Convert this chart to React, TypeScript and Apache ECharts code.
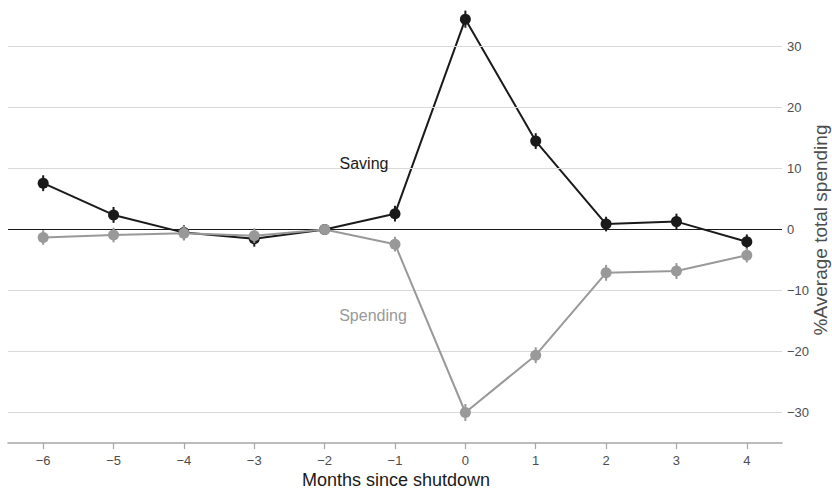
import React, { useEffect, useRef } from "react";
import * as echarts from "echarts";

// Months relative to the shutdown month
const months = ["-6", "-5", "-4", "-3", "-2", "-1", "0", "1", "2", "3", "4"];

// Change relative to average total spending (%), with ±error
const saving = [7.6, 2.4, -0.5, -1.5, 0, 2.6, 34.5, 14.5, 0.9, 1.3, -2.0];
const savingErr = [1.3, 1.3, 1.2, 1.3, 0.3, 1.3, 1.4, 1.3, 1.2, 1.3, 1.2];
const spending = [-1.3, -0.9, -0.6, -1.0, 0, -2.4, -30.0, -20.6, -7.1, -6.8, -4.2];
const spendingErr = [1.2, 1.2, 1.2, 1.2, 0.3, 1.2, 1.4, 1.3, 1.3, 1.3, 1.2];

// Reference lines drawn across the plot
const gridValues = [-30, -20, -10, 10, 20, 30];

const FONT = "Liberation Sans, Arial, Helvetica, sans-serif";
const DARK = "#1a1a1a";
const GREY = "#999999";
const LABEL = "#4d4d4d";

function errorBars(name: string, values: number[], errs: number[], color: string, z: number) {
  return {
    type: "custom",
    name,
    z,
    silent: true,
    data: values.map((v, i) => [i, v - errs[i], v + errs[i]]),
    renderItem: (_params: any, api: any) => {
      const lo = api.coord([api.value(0), api.value(1)]);
      const hi = api.coord([api.value(0), api.value(2)]);
      return {
        type: "line",
        shape: { x1: lo[0], y1: lo[1], x2: hi[0], y2: hi[1] },
        style: { stroke: color, lineWidth: 2 },
      };
    },
  };
}

function textItem(text: string, x: number, y: number, size: number, color: string, rotation = 0) {
  return {
    type: "text",
    z: 100,
    x,
    y,
    rotation,
    style: {
      text,
      fill: color,
      font: `${size}px ${FONT}`,
      textAlign: "center",
      textVerticalAlign: "middle",
    },
  };
}

export default function App() {
  const ref = useRef<HTMLDivElement>(null);

  useEffect(() => {
    document.body.style.margin = "0";
    document.body.style.overflow = "hidden";
    if (!ref.current) return;
    const chart = echarts.init(ref.current, null, { renderer: "svg" });
    chart.setOption({
      animation: false,
      backgroundColor: "#ffffff",
      textStyle: { fontFamily: FONT },
      grid: {
        left: 8,
        right: 50,
        top: 10,
        bottom: 47,
        containLabel: false,
        outerBoundsMode: "none",
      },
      xAxis: {
        type: "category",
        data: months,
        boundaryGap: true,
        axisLine: {
          show: true,
          onZero: false,
          lineStyle: { color: "#a6a6a6", width: 1.5 },
        },
        axisTick: {
          show: true,
          alignWithLabel: true,
          length: 6,
          lineStyle: { color: "#a6a6a6", width: 1.2 },
        },
        axisLabel: {
          color: LABEL,
          fontSize: 13,
          margin: 11,
          formatter: (v: string) => v.replace("-", "\u2212"),
        },
        splitLine: { show: false },
      },
      yAxis: {
        type: "value",
        position: "right",
        min: -35,
        max: 36,
        interval: 5,
        axisLine: { show: false },
        axisTick: { show: false },
        splitLine: { show: false },
        axisLabel: {
          color: LABEL,
          fontSize: 13,
          margin: 5,
          formatter: (v: number) =>
            v % 10 === 0 ? String(v).replace("-", "\u2212") : "",
        },
      },
      graphic: [
        textItem("Saving", 364, 163, 16, DARK),
        textItem("Spending", 373, 315, 16, GREY),
        textItem("Months since shutdown", 396, 480, 18, DARK),
        textItem("%Average total spending", 820, 230, 19, LABEL, Math.PI / 2),
      ],
      series: [
        {
          type: "line",
          name: "grid",
          data: [],
          z: 1,
          markLine: {
            silent: true,
            symbol: "none",
            label: { show: false },
            lineStyle: { color: "#d9d9d9", width: 1, type: "solid" },
            data: [
              ...gridValues.map((v) => ({ yAxis: v })),
              { yAxis: 0, lineStyle: { color: DARK, width: 1, type: "solid" } },
            ],
          },
        },
        errorBars("Saving error", saving, savingErr, DARK, 3),
        {
          type: "line",
          name: "Saving",
          data: saving,
          z: 4,
          symbol: "circle",
          symbolSize: 11,
          itemStyle: { color: DARK },
          lineStyle: { color: DARK, width: 2 },
        },
        errorBars("Spending error", spending, spendingErr, GREY, 5),
        {
          type: "line",
          name: "Spending",
          data: spending,
          z: 6,
          symbol: "circle",
          symbolSize: 11,
          itemStyle: { color: GREY },
          lineStyle: { color: GREY, width: 2 },
        },
      ],
    });
    return () => chart.dispose();
  }, []);

  return (
    <div
      ref={ref}
      style={{ position: "fixed", left: 0, top: 0, width: 832, height: 490 }}
    />
  );
}
